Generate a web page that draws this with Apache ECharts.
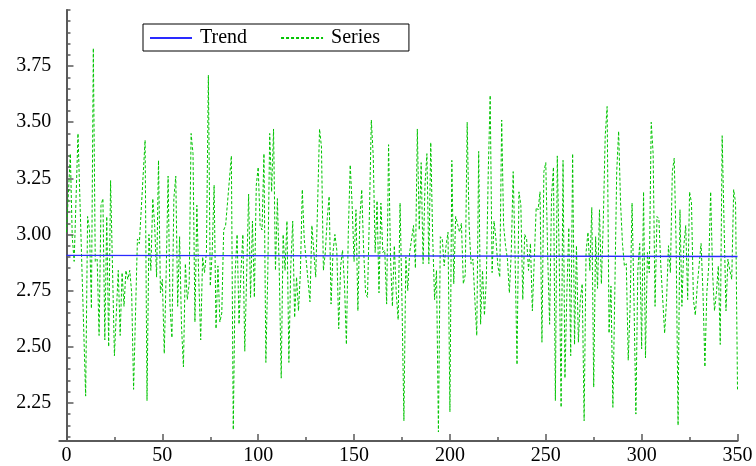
<!DOCTYPE html>
<html>
<head>
<meta charset="utf-8">
<script src="https://cdn.jsdelivr.net/npm/echarts@6/dist/echarts.min.js"></script>
<style>
  html, body { margin: 0; padding: 0; background: #ffffff; }
  #chart { width: 756px; height: 466px; }
</style>
</head>
<body>
<div id="chart"></div>
<script>
// Observed series: [x, value]
const seriesPoints = [
  [0,3.01],[2,3.36],[3,2.99],[4,2.88],[6,3.45],[10,2.28],[11,3.08],[12,3.02],[13,2.67],[14,3.83],
  [15,2.88],[16,2.89],[17,2.55],[18,3.13],[19,3.16],[20,2.53],[21,3.08],[22,2.50],[23,3.24],[25,2.46],
  [27,2.84],[28,2.55],[29,2.83],[30,2.68],[31,2.84],[32,2.80],[33,2.84],[34,2.74],[35,2.31],[37,2.98],
  [38,2.96],[41,3.42],[42,2.26],[43,3.00],[44,2.84],[45,3.16],[46,3.04],[47,2.81],[48,3.33],[49,2.74],
  [50,2.80],[51,2.47],[52,2.83],[53,3.26],[54,2.68],[55,2.54],[56,3.16],[57,3.26],[58,2.68],[59,2.99],
  [60,2.59],[61,2.41],[62,2.87],[63,2.71],[64,2.78],[65,3.45],[66,3.36],[67,2.61],[68,3.13],[69,2.80],
  [70,2.53],[71,2.90],[72,2.83],[73,2.92],[74,3.71],[75,2.77],[76,2.92],[77,3.22],[78,2.58],[79,2.86],
  [80,2.61],[81,2.65],[82,3.02],[83,3.04],[84,3.04],[86,3.35],[87,2.13],[88,2.83],[89,3.00],[90,2.60],
  [91,2.83],[92,3.00],[93,2.48],[94,2.83],[95,3.18],[96,2.72],[97,3.06],[98,2.72],[99,3.22],[100,3.30],
  [101,3.04],[102,3.02],[103,3.36],[104,2.43],[105,2.83],[106,3.45],[107,3.19],[108,3.47],[109,2.84],[110,3.16],
  [111,2.83],[112,2.36],[113,3.00],[114,2.84],[115,3.06],[116,2.43],[117,2.86],[118,3.06],[119,2.63],[120,2.81],
  [121,2.66],[122,2.83],[123,3.20],[124,2.98],[127,2.70],[128,3.04],[129,3.04],[130,2.81],[132,3.47],[133,3.39],
  [134,2.84],[135,2.92],[136,3.07],[137,3.17],[138,2.69],[139,2.92],[140,3.00],[141,2.93],[142,2.58],[143,2.86],
  [144,2.93],[145,2.78],[146,2.51],[147,3.01],[148,3.31],[149,3.13],[150,2.88],[151,3.11],[152,2.66],[153,3.07],
  [154,3.20],[155,2.93],[156,2.74],[157,2.72],[158,3.09],[159,3.51],[160,3.35],[161,2.92],[162,3.15],[163,2.74],
  [164,3.14],[165,2.92],[166,2.93],[167,2.69],[168,3.40],[169,2.90],[170,2.68],[171,2.95],[172,2.74],[173,2.62],
  [174,3.14],[175,2.70],[176,2.17],[177,2.90],[178,2.75],[179,2.92],[180,2.98],[181,3.04],[182,2.85],[183,3.47],
  [184,3.02],[185,3.32],[186,2.87],[187,3.22],[188,3.36],[189,2.87],[190,3.41],[191,2.99],[192,2.71],[193,2.84],
  [194,2.12],[195,2.99],[196,2.98],[197,2.86],[198,2.95],[199,3.01],[200,2.21],[201,3.33],[202,2.78],[203,3.08],
  [204,3.08],[205,3.01],[206,3.05],[207,2.78],[208,2.82],[209,3.50],[210,3.04],[211,2.87],[212,2.89],[213,2.71],
  [214,2.55],[215,3.37],[216,2.60],[217,2.84],[218,2.64],[219,2.80],[220,3.28],[221,3.62],[222,2.83],[223,3.06],
  [224,2.98],[225,2.86],[226,2.81],[227,3.51],[228,3.04],[229,2.95],[230,2.89],[231,2.74],[232,2.92],[233,3.28],
  [234,2.90],[235,2.42],[236,3.19],[237,3.13],[238,2.71],[239,3.00],[240,2.98],[241,2.84],[242,2.96],[243,2.66],
  [244,2.89],[245,3.12],[246,3.11],[247,3.19],[248,2.52],[249,3.28],[250,3.32],[251,2.90],[252,2.60],[253,3.17],
  [254,3.30],[255,2.26],[256,3.35],[257,2.90],[258,2.23],[259,3.33],[260,2.36],[261,2.74],[262,3.03],[263,2.46],
  [264,3.36],[265,2.51],[266,2.95],[267,2.52],[268,2.71],[269,2.78],[270,2.17],[271,2.92],[272,3.01],[273,2.84],
  [274,3.12],[275,2.32],[276,2.99],[277,2.76],[278,3.11],[279,2.78],[280,3.06],[281,3.44],[282,3.57],[283,2.56],
  [284,2.77],[285,2.23],[286,2.74],[287,3.28],[288,3.46],[289,3.14],[290,2.96],[291,2.86],[292,2.87],[293,2.44],
  [294,2.68],[295,3.14],[296,2.71],[297,2.20],[298,2.84],[299,2.96],[300,2.49],[301,3.19],[302,2.45],[303,2.92],
  [304,2.83],[305,3.50],[306,3.36],[307,2.68],[308,3.08],[309,3.07],[310,2.86],[312,2.56],[313,2.71],[314,2.95],
  [315,2.83],[316,3.28],[317,3.34],[318,2.95],[319,2.15],[320,3.11],[321,2.68],[322,2.95],[323,3.04],[324,2.71],
  [325,3.19],[326,3.14],[327,2.71],[328,2.64],[329,2.77],[330,2.77],[331,2.96],[332,2.74],[333,2.41],[334,2.74],
  [335,2.86],[336,3.19],[337,2.83],[338,2.66],[339,2.74],[340,2.86],[341,2.51],[342,3.44],[343,3.04],[344,2.66],
  [345,2.89],[346,2.84],[347,2.80],[348,3.20],[349,3.14],[350,2.31]
];

// Fitted trend, end points
const trendPoints = [[0, 2.907], [350, 2.902]];

// Axis ticks
const xMajorTicks = [0, 50, 100, 150, 200, 250, 300, 350];
const xMinorTicks = [25, 75, 125, 175, 225, 275, 325];
const yMajorTicks = [2.25, 2.50, 2.75, 3.00, 3.25, 3.50, 3.75];
const yMinorTicks = [2.10, 2.15, 2.20, 2.30, 2.35, 2.40, 2.45, 2.55, 2.60, 2.65, 2.70,
  2.80, 2.85, 2.90, 2.95, 3.05, 3.10, 3.15, 3.20, 3.30, 3.35, 3.40, 3.45,
  3.55, 3.60, 3.65, 3.70, 3.80, 3.85, 3.90, 3.95, 4.00];

const X_MIN = -3.75, X_MAX = 350;
const Y_MIN = 2.08, Y_MAX = 4.0;

const FONT = 'Liberation Serif';
const AXIS_COLOR = '#5a5a5a';

const chart = echarts.init(document.getElementById('chart'), null, { renderer: 'canvas' });

const xMain = {
  type: 'value', min: X_MIN, max: X_MAX, position: 'bottom',
  axisLine: { show: true, lineStyle: { color: AXIS_COLOR, width: 2 } },
  axisTick: { show: true, inside: true, length: 7, customValues: xMajorTicks,
    lineStyle: { color: AXIS_COLOR, width: 1.5 } },
  axisLabel: { customValues: xMajorTicks, fontFamily: FONT, fontSize: 20, color: '#000', margin: 5,
    formatter: v => String(Math.round(v)) },
  splitLine: { show: false }
};
const xMinor = {
  type: 'value', min: X_MIN, max: X_MAX, position: 'bottom',
  axisLine: { show: false },
  axisTick: { show: true, inside: true, length: 4, customValues: xMinorTicks,
    lineStyle: { color: AXIS_COLOR, width: 1.5 } },
  axisLabel: { show: false },
  splitLine: { show: false }
};
const yMain = {
  type: 'value', min: Y_MIN, max: Y_MAX, position: 'left',
  axisLine: { show: true, onZero: true, lineStyle: { color: AXIS_COLOR, width: 2 } },
  axisTick: { show: true, inside: true, length: 7, customValues: yMajorTicks,
    lineStyle: { color: AXIS_COLOR, width: 1.5 } },
  axisLabel: { customValues: yMajorTicks, fontFamily: FONT, fontSize: 20, color: '#000', margin: 8,
    formatter: v => v.toFixed(2) },
  splitLine: { show: false }
};
const yMinor = {
  type: 'value', min: Y_MIN, max: Y_MAX, position: 'left',
  axisLine: { show: false, onZero: true },
  axisTick: { show: true, inside: true, length: 4, customValues: yMinorTicks,
    lineStyle: { color: AXIS_COLOR, width: 1.5 } },
  axisLabel: { show: false },
  splitLine: { show: false }
};

chart.setOption({
  animation: false,
  backgroundColor: '#ffffff',
  grid: { left: 59.3, right: 18.5, top: 10, bottom: 25, containLabel: false },
  legend: {
    left: 143, top: 24,
    orient: 'horizontal',
    backgroundColor: '#ffffff',
    borderColor: '#000000', borderWidth: 1,
    padding: [4, 29, 3, 6],
    itemWidth: 42, itemHeight: 14, itemGap: 33,
    // line-only keys: hide the marker drawn on top of the line sample
    itemStyle: { color: 'rgba(0,0,0,0)', borderColor: 'rgba(0,0,0,0)', borderWidth: 0 },
    textStyle: { fontFamily: FONT, fontSize: 20, color: '#000', padding: [0, 0, 0, 3] },
    data: ['Trend', 'Series']
  },
  xAxis: [xMain, xMinor],
  yAxis: [yMain, yMinor],
  series: [
    {
      name: 'Series', type: 'line', xAxisIndex: 0, yAxisIndex: 0,
      data: seriesPoints, showSymbol: false, symbol: 'none',
      lineStyle: { color: '#00c400', width: 1, type: [3, 2] },
      itemStyle: { color: '#00c400' },
      z: 2
    },
    {
      name: 'Trend', type: 'line', xAxisIndex: 0, yAxisIndex: 0,
      data: trendPoints, showSymbol: false, symbol: 'none',
      lineStyle: { color: '#2a2aff', width: 1.3 },
      itemStyle: { color: '#2a2aff' },
      z: 3
    }
  ]
});
</script>
</body>
</html>
